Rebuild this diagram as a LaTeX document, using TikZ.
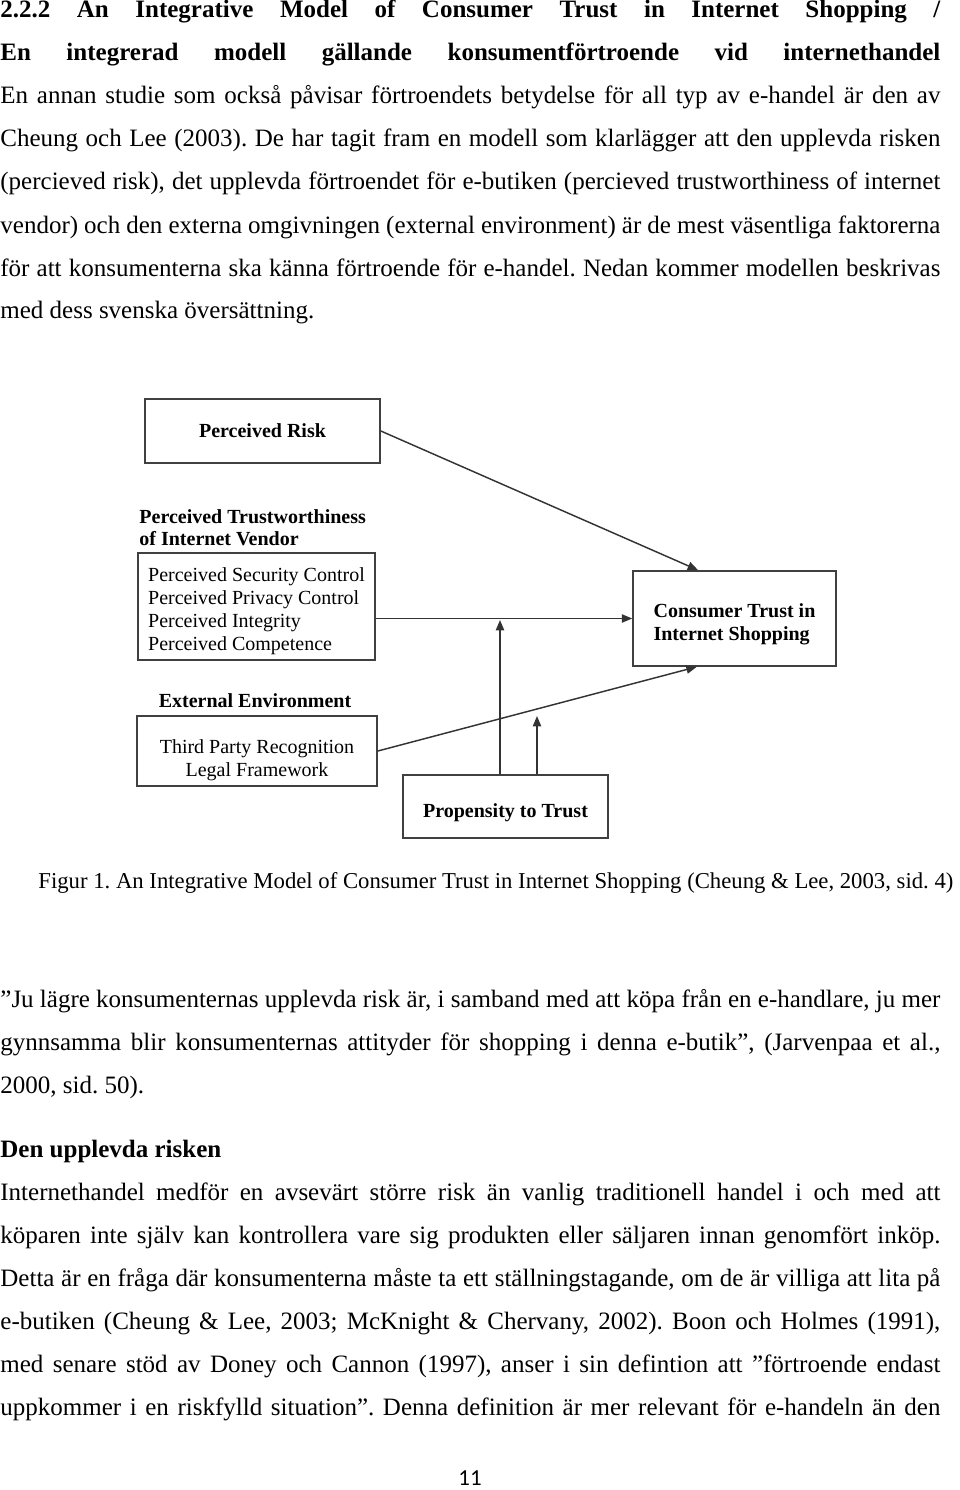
\documentclass[tikz,border=0pt]{standalone}
\usepackage{fontspec}
\setmainfont{Liberation Serif}
\newfontfamily\pagefont{Carlito}
\usetikzlibrary{arrows.meta}

\begin{document}
\begin{tikzpicture}[x=0.48pt, y=-0.48pt]
        \tikzstyle{proc} = [rectangle, draw=black!75, line width=0.8pt, inner sep=0pt, text centered, font=\fontsize{9.6}{11.04}\selectfont]
        \tikzstyle{procb} = [proc, font=\fontsize{9.6}{11.04}\selectfont\bfseries]
        \tikzstyle{head} = [inner sep=0pt, font=\fontsize{9.6}{10.6}\selectfont\bfseries]
        \tikzstyle{body} = [inner sep=0pt, anchor=base west, text width=451.2pt, align=justify, execute at begin node={\fontsize{12}{20.64}\selectfont\frenchspacing\tolerance=10000\hyphenpenalty=10000}]
        \tikzstyle{arrow} = [line width=0.7pt, draw=black!80, ->, >={Triangle[length=5pt,width=4pt]}]
        \useasboundingbox (0,0) rectangle (960,1490);
        \node (title) [body] at (0,18) {\bfseries\parfillskip=0pt 2.2.2 An Integrative Model of Consumer Trust in Internet Shopping /\linebreak En integrerad modell gällande konsumentförtroende vid internethandel\par};
        \node (p1) [body] at (0,104) {En annan studie som också påvisar förtroendets betydelse för all typ av e-handel är den av\linebreak Cheung och Lee (2003). De har tagit fram en modell som klarlägger att den upplevda risken\linebreak (percieved risk), det upplevda förtroendet för e-butiken (percieved trustworthiness of internet\linebreak vendor) och den externa omgivningen (external environment) är de mest väsentliga faktorerna\linebreak för att konsumenterna ska känna förtroende för e-handel. Nedan kommer modellen beskrivas\linebreak med dess svenska översättning.};
        \node (risk) [procb, minimum width=112.8pt, minimum height=30.7pt] at (262.5,431) {Perceived Risk};
        \node (vhead) [head, anchor=west, align=left] at (139,528) {Perceived Trustworthiness\\of Internet Vendor};
        \node (vendor) [proc, minimum width=113.8pt, minimum height=51.4pt, text height=44.4pt, align=left] at (256.5,606.5) {Perceived Security Control\\Perceived Privacy Control\\Perceived Integrity\\Perceived Competence};
        \node (trust) [procb, minimum width=97.4pt, minimum height=45.6pt, text height=23.4pt, align=left] at (734.5,618.5) {Consumer Trust in\\Internet Shopping};
        \node (ehead) [head] at (255,701) {External Environment};
        \node (env) [proc, minimum width=115.2pt, minimum height=33.6pt, text height=26.2pt, align=center] at (257,751) {Third Party Recognition\\Legal Framework};
        \node (prop) [procb, minimum width=98.4pt, minimum height=30.2pt, text height=12.5pt, text depth=2pt] at (505.5,806.5) {Propensity to Trust};
        \coordinate (m1) at (500,620);
        \coordinate (m2) at (537,716);
        \draw[arrow] (risk.east) -- (trust.127.5);
        \draw[arrow] (vendor.east |- trust.west) -- (trust.west);
        \draw[arrow] (env.east) -- (trust.232);
        \draw[arrow] (prop.north -| m1) -- (m1);
        \draw[arrow] (prop.north -| m2) -- (m2);
        \node (cap) [inner sep=0pt, anchor=base west, font=\fontsize{10.9}{13}\selectfont\frenchspacing] at (38,888) {Figur 1. An Integrative Model of Consumer Trust in Internet Shopping (Cheung \& Lee, 2003, sid. 4)};
        \node (quote) [body] at (0,1007) {”Ju lägre konsumenternas upplevda risk är, i samband med att köpa från en e-handlare, ju mer\linebreak gynnsamma blir konsumenternas attityder för shopping i denna e-butik”, (Jarvenpaa et al.,\linebreak 2000, sid. 50).};
        \node (sub) [inner sep=0pt, anchor=base west, font=\fontsize{12}{14}\selectfont\bfseries] at (0,1157) {Den upplevda risken};
        \node (p2) [body] at (0,1200) {\parfillskip=0pt Internethandel medför en avsevärt större risk än vanlig traditionell handel i och med att\linebreak köparen inte själv kan kontrollera vare sig produkten eller säljaren innan genomfört inköp.\linebreak Detta är en fråga där konsumenterna måste ta ett ställningstagande, om de är villiga att lita på\linebreak e-butiken (Cheung \& Lee, 2003; McKnight \& Chervany, 2002). Boon och Holmes (1991),\linebreak med senare stöd av Doney och Cannon (1997), anser i sin defintion att ”förtroende endast\linebreak uppkommer i en riskfylld situation”. Denna definition är mer relevant för e-handeln än den\par};
        \node (page) [inner sep=0pt, anchor=base, font=\pagefont\fontsize{11}{13}\selectfont] at (470,1485) {11};
\end{tikzpicture}
\end{document}
